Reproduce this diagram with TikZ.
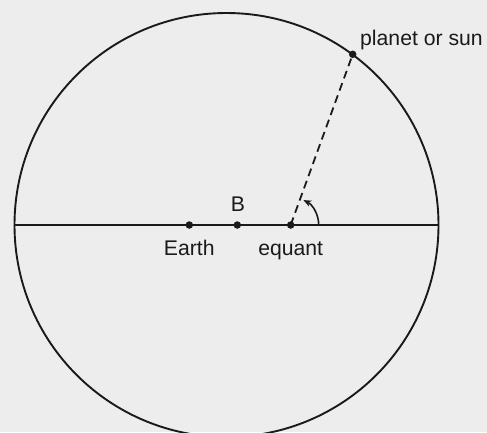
\documentclass[tikz,border=0pt]{standalone}
\usepackage{fontspec}
\setmainfont{Liberation Sans}
\usetikzlibrary{arrows.meta}
\definecolor{bg}{HTML}{EDEDED}
\definecolor{ink}{HTML}{1A1A1A}
\begin{document}
\begin{tikzpicture}[x=1pt,y=-1pt,
  dot/.style={circle,fill=ink,inner sep=0pt,minimum size=7.5pt},
  lbl/.style={anchor=base,inner sep=0pt,text=ink,font=\fontsize{21.2}{25}\selectfont},
  thinline/.style={draw=ink,line width=1.6pt},
  dashline/.style={draw=ink,line width=1.8pt,dash pattern=on 8pt off 5pt}]
\fill[bg] (0,0) rectangle (487,432);
\useasboundingbox (0,0) rectangle (487,432);
\begin{scope}
\clip (0,0) rectangle (487,432);
\draw[ink,line width=1.9pt] (226.5,225) circle [radius=212pt];
\end{scope}
\coordinate (L) at (14.5,225);
\coordinate (R) at (438.5,225);
\draw[thinline] (L) -- (R);
\node[dot] (earth) at (189.3,225) {};
\node[dot] (b) at (237.3,225) {};
\node[dot] (eq) at (290.7,225) {};
\node[dot] (pl) at (352.7,54.3) {};
\draw[dashline] (eq.center) -- (pl.center);
\draw[thinline,-{Stealth[length=8pt,width=6.5pt]}] ([xshift=28pt]eq.center) arc[start angle=0,end angle=63,radius=28pt];
\node[lbl] (tearth) at (189.3,255) {Earth};
\node[lbl] (tb) at (238,211.7) {B};
\node[lbl] (teq) at (290.7,255) {equant};
\node[lbl,anchor=base west] (tpl) at (360,45) {planet or sun};
\end{tikzpicture}
\end{document}
